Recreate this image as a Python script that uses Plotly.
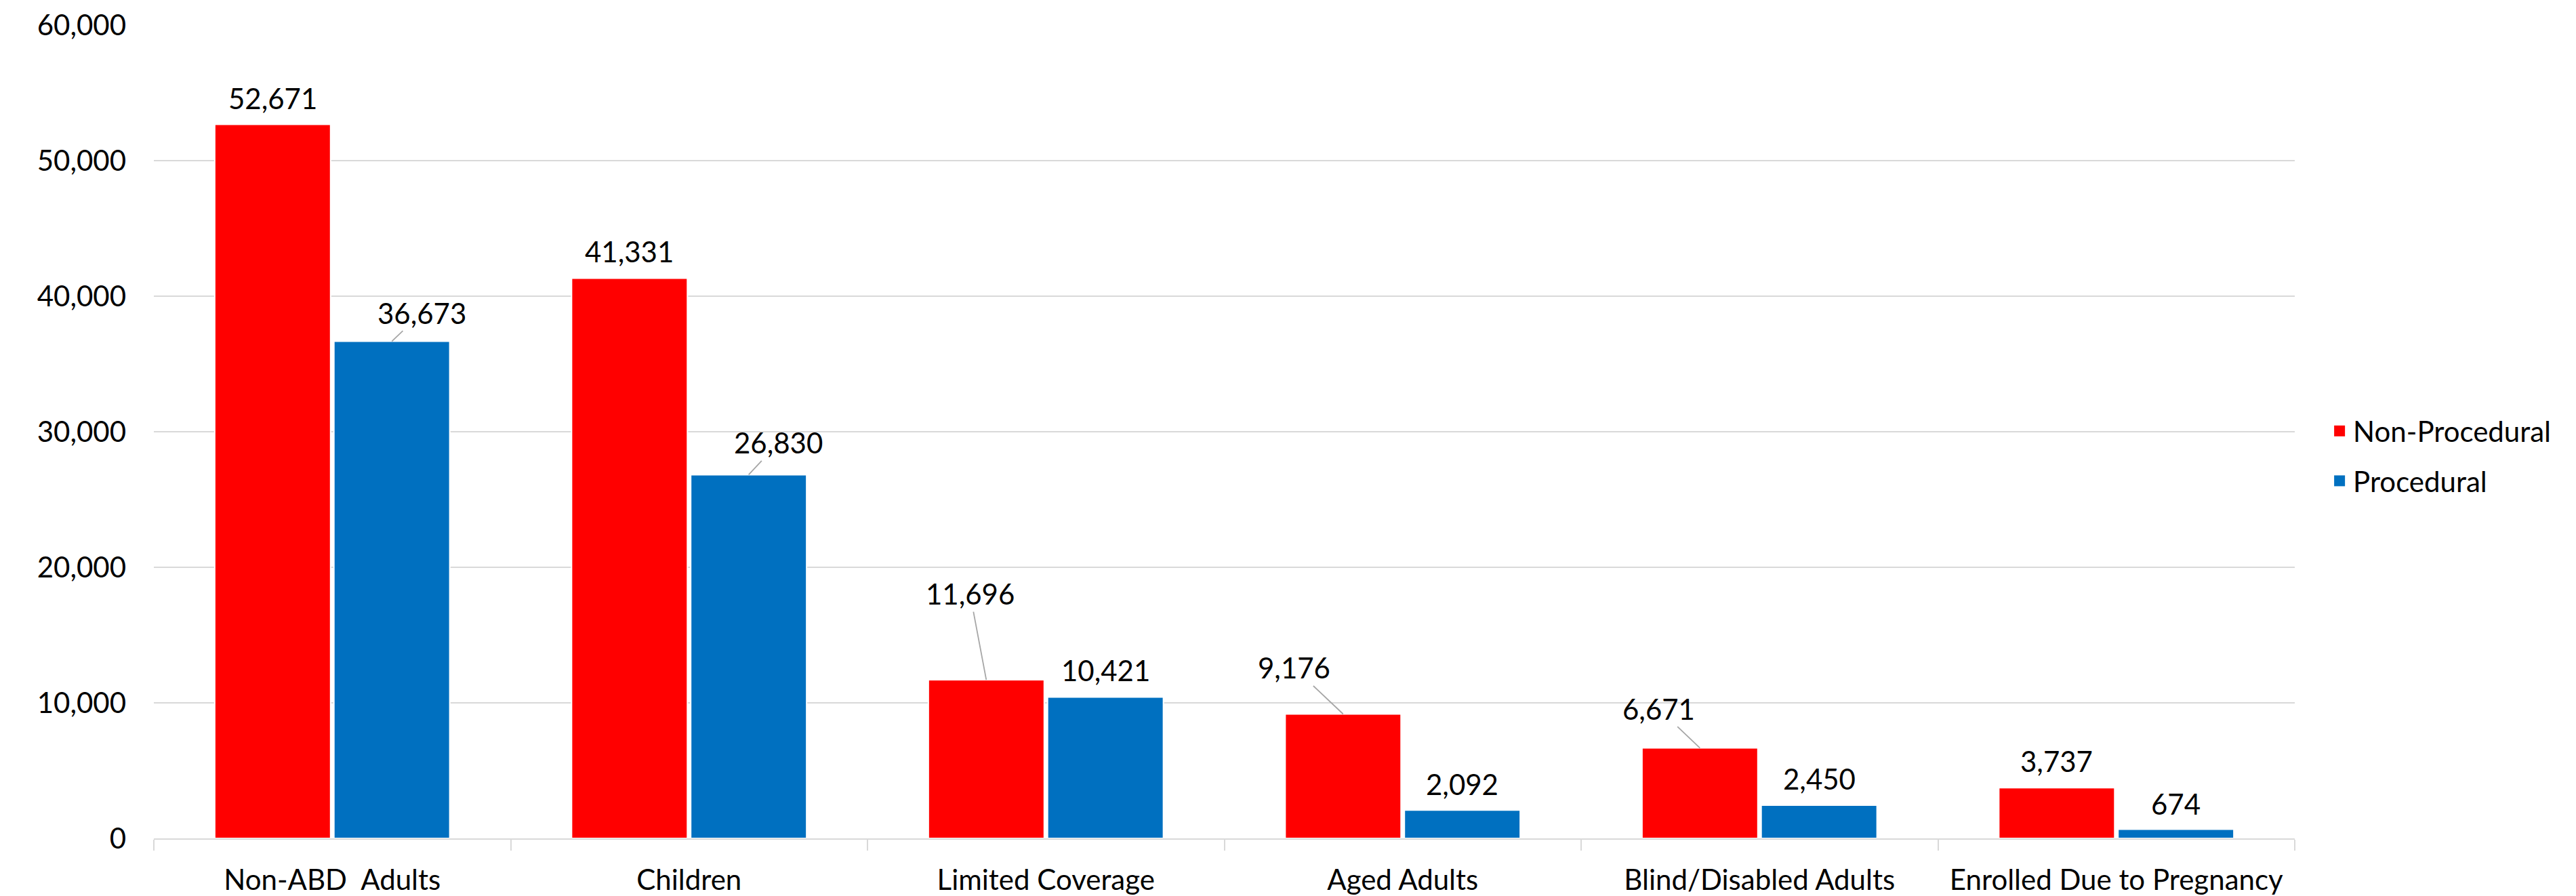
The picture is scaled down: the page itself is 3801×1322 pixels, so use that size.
import plotly.graph_objects as go

categories = ["Non-ABD\u00a0 Adults", "Children", "Limited Coverage", "Aged Adults",
              "Blind/Disabled Adults", "Enrolled Due to Pregnancy"]
non_procedural = [52671, 41331, 11696, 9176, 6671, 3737]
procedural = [36673, 26830, 10421, 2092, 2450, 674]
y_ticks = [0, 10000, 20000, 30000, 40000, 50000, 60000]

# label offsets (pixels) relative to bar top: (dx, dy)
np_offsets = [(0, -39), (0, -39), (-24, -127), (-72, -68), (-61, -58), (0, -39)]
p_offsets = [(44, -42), (44, -47), (0, -40), (0, -38), (0, -39), (0, -38)]

RED = "#FF0000"
BLUE = "#0070C0"
GRID = "#D9D9D9"
FONT = "Lato"
FS = 42
BARGAP = 0.332

fig = go.Figure()
fig.add_trace(go.Bar(name="Non-Procedural", x=categories, y=non_procedural,
                     marker=dict(color=RED, line=dict(color="white", width=2)),
                     showlegend=False, hoverinfo="x+y"))
fig.add_trace(go.Bar(name="Procedural", x=categories, y=procedural,
                     marker=dict(color=BLUE, line=dict(color="white", width=2)),
                     showlegend=False, hoverinfo="x+y"))
# legend entries with larger square swatches
for name, col, grp in (("Non-Procedural", RED, "a"), ("Procedural", BLUE, "b")):
    fig.add_trace(go.Scatter(name=name, x=[None], y=[None], mode="markers",
                             marker=dict(symbol="square", size=22, color=col),
                             legendgroup=grp, showlegend=True))

half = (1 - BARGAP) / 4.0
annotations = []
for series, offs, sign in ((non_procedural, np_offsets, -1), (procedural, p_offsets, 1)):
    for i, (v, (dx, dy)) in enumerate(zip(series, offs)):
        leader = dx != 0
        annotations.append(dict(
            x=i + sign * half, y=v, xref="x", yref="y",
            text=f"{v:,}", showarrow=True, ax=dx, ay=dy,
            axref="pixel", ayref="pixel",
            arrowhead=0, arrowwidth=1.8, standoff=0, startstandoff=0,
            arrowcolor="#A6A6A6" if leader else "rgba(0,0,0,0)",
            font=dict(family=FONT, size=FS, color="black"),
        ))

fig.update_layout(
    width=3801, height=1322,
    margin=dict(l=227, r=415, t=37, b=85, autoexpand=False),
    paper_bgcolor="white", plot_bgcolor="white",
    barmode="group", bargap=BARGAP, bargroupgap=0.028,
    font=dict(family=FONT, size=FS, color="black"),
    annotations=annotations,
    showlegend=True,
    legend=dict(x=1.0146, y=0.47, xanchor="left", yanchor="middle",
                font=dict(family=FONT, size=FS, color="black"),
                tracegroupgap=16, itemwidth=30, itemsizing="trace",
                bgcolor="rgba(0,0,0,0)"),
    xaxis=dict(type="category", showline=True, linecolor=GRID, linewidth=2,
               ticks="outside", tickson="boundaries", ticklen=16, tickcolor=GRID,
               tickwidth=2, showgrid=False, ticklabelstandoff=24, automargin=False,
               tickfont=dict(family=FONT, size=FS, color="black")),
    yaxis=dict(range=[0, 60000], tickvals=y_ticks, tickformat=",",
               showgrid=True, gridcolor=GRID, gridwidth=2, zeroline=False,
               showline=False, ticks="", ticklabelstandoff=40, automargin=False,
               tickfont=dict(family=FONT, size=FS, color="black")),
)

fig.write_html("out.html")
